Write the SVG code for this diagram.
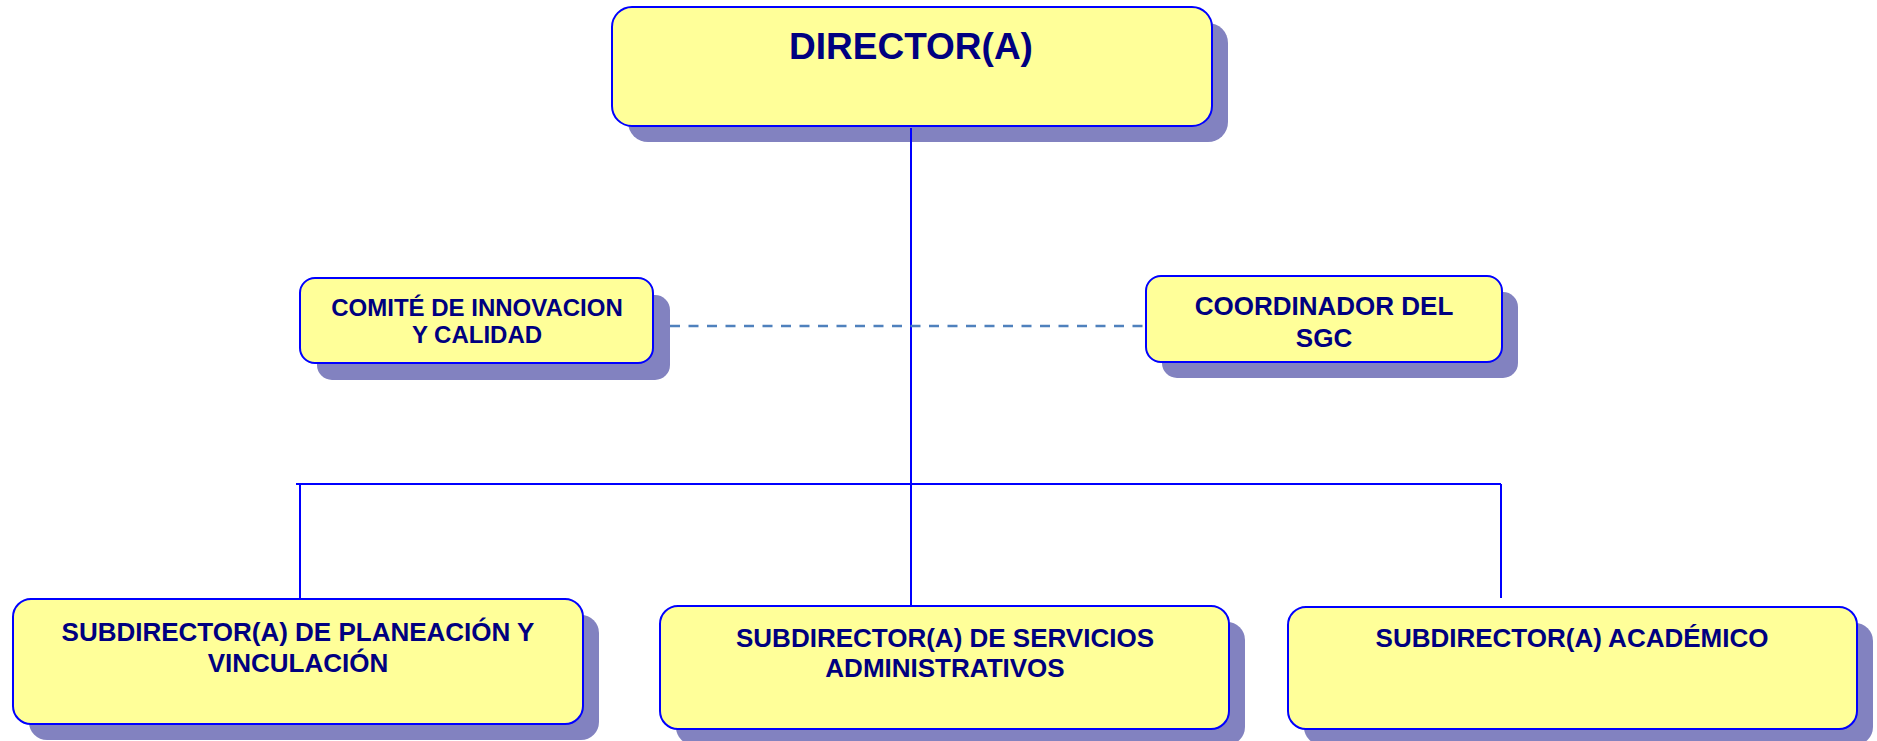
<svg xmlns="http://www.w3.org/2000/svg" width="1877" height="741" viewBox="0 0 1877 741">
<style>
.shadow{fill:#8282C0;stroke:none}
.box{fill:#FFFF99;stroke:#0000FF;stroke-width:2}
.t{font-family:"Liberation Sans",Arial,sans-serif;font-weight:bold;fill:#000080;text-anchor:middle}
.c{stroke:#0000FF;stroke-width:2;fill:none}
.d{stroke:#4F81BD;stroke-width:2.5;fill:none;stroke-dasharray:10 8.5}
</style>
<rect width="1877" height="741" fill="#FFFFFF"/>
<g id="director">
<rect class="shadow" x="628" y="23" width="600" height="119" rx="20"/>
<rect class="box" x="612" y="7" width="600" height="119" rx="20"/>
<text class="t" x="911" y="59" font-size="37">DIRECTOR(A)</text>
</g>
<g id="comite">
<rect class="shadow" x="317" y="295" width="353" height="85" rx="15"/>
<rect class="box" x="300" y="278" width="353" height="85" rx="15"/>
<text class="t" x="477" y="316" font-size="24">COMITÉ DE INNOVACION</text>
<text class="t" x="477" y="343" font-size="24">Y CALIDAD</text>
</g>
<g id="coordinador">
<rect class="shadow" x="1162" y="292" width="356" height="86" rx="15"/>
<rect class="box" x="1146" y="276" width="356" height="86" rx="15"/>
<text class="t" x="1324" y="315" font-size="26">COORDINADOR DEL</text>
<text class="t" x="1324" y="347" font-size="26">SGC</text>
</g>
<g id="sub-planeacion">
<rect class="shadow" x="29" y="615" width="570" height="125" rx="18"/>
<rect class="box" x="13" y="599" width="570" height="125" rx="18"/>
<text class="t" x="298" y="641" font-size="26">SUBDIRECTOR(A) DE PLANEACIÓN Y</text>
<text class="t" x="298" y="672" font-size="26">VINCULACIÓN</text>
</g>
<g id="sub-servicios">
<rect class="shadow" x="676" y="622" width="569" height="123" rx="18"/>
<rect class="box" x="660" y="606" width="569" height="123" rx="18"/>
<text class="t" x="945" y="647" font-size="26">SUBDIRECTOR(A) DE SERVICIOS</text>
<text class="t" x="945" y="677" font-size="26">ADMINISTRATIVOS</text>
</g>
<g id="sub-academico">
<rect class="shadow" x="1304" y="623" width="569" height="122" rx="18"/>
<rect class="box" x="1288" y="607" width="569" height="122" rx="18"/>
<text class="t" x="1572" y="647" font-size="26">SUBDIRECTOR(A) ACADÉMICO</text>
</g>
<g id="connectors">
<line class="c" x1="911" y1="128" x2="911" y2="605"/>
<line class="c" x1="296" y1="484" x2="1501" y2="484"/>
<line class="c" x1="300" y1="484" x2="300" y2="598"/>
<line class="c" x1="1501" y1="484" x2="1501" y2="598"/>
<line class="d" x1="670" y1="326" x2="1145" y2="326"/>
</g>
</svg>
